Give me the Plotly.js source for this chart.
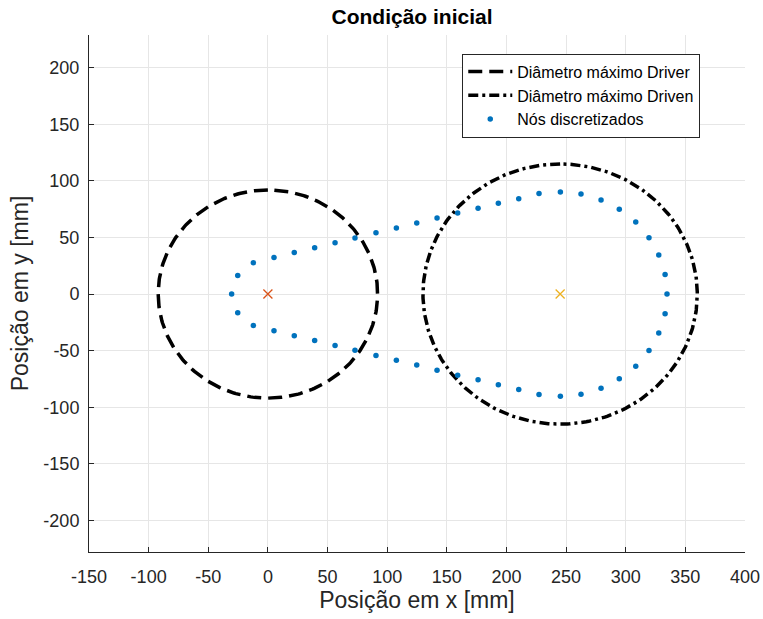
<!DOCTYPE html>
<html><head><meta charset="utf-8">
<script src="https://cdn.plot.ly/plotly-3.0.1.min.js"></script>
<style>body{margin:0;background:#fff}#chart{width:763px;height:619px}</style>
</head><body><div id="chart"></div>
<script>
// Discretized nodes (upper half, then lower half mirrored in reading order)
const nodesX = [-30.4,-25.3,-12.2,5.1,22.1,39.2,56.3,73.0,90.6,107.7,124.8,141.8,159.1,176.2,193.2,210.3,227.3,245.2,262.5,279.3,294.6,308.4,319.5,327.7,333.0,334.6,
                333.0,327.7,319.5,308.4,294.6,279.3,262.5,245.2,227.3,210.3,193.2,176.2,159.1,141.8,124.8,107.7,90.6,73.0,56.3,39.2,22.1,5.1,-12.2,-25.3];
const nodesY = [0,16.5,27.7,32.4,36.8,41.0,45.4,49.6,54.2,58.4,62.8,67.3,71.7,75.8,80.2,84.3,88.8,90.3,88.5,83.2,74.9,63.7,49.8,34.5,17.3,0,
                -17.3,-34.5,-49.8,-63.7,-74.9,-83.2,-88.5,-90.3,-88.8,-84.3,-80.2,-75.8,-71.7,-67.3,-62.8,-58.4,-54.2,-49.6,-45.4,-41.0,-36.8,-32.4,-27.7,-16.5];
// Gear centers and maximum radii
const centerX = [0, 245];
const centerY = [0, 0];
const radius = [92, 115];
const names = ["Diâmetro máximo Driver", "Diâmetro máximo Driven", "Nós discretizados"];
const xTicks = [-150,-100,-50,0,50,100,150,200,250,300,350,400];
const yTicks = [-200,-150,-100,-50,0,50,100,150,200];

function circle(cx, cy, r){
  const xs=[], ys=[];
  for(let i=0;i<=360;i++){const t=Math.PI/2 + i*Math.PI/180; xs.push(cx+r*Math.cos(t)); ys.push(cy+r*Math.sin(t));}
  return {xs, ys};
}
const c0 = circle(centerX[0], centerY[0], radius[0]);
const c1 = circle(centerX[1], centerY[1], radius[1]);

const font = "Liberation Sans, Arial, sans-serif";
const traces = [
  {x:c0.xs, y:c0.ys, mode:'lines', name:names[0], line:{color:'#000', width:3.5, dash:'14px,7px'}},
  {x:c1.xs, y:c1.ys, mode:'lines', name:names[1], line:{color:'#000', width:3.5, dash:'10px,4px,3px,4px'}},
  {x:nodesX, y:nodesY, mode:'markers', name:names[2], marker:{color:'#0072BD', size:5.5}},
  {x:[centerX[0]], y:[centerY[0]], mode:'markers', showlegend:false, marker:{color:'#D95319', size:9, symbol:'x-thin', line:{color:'#D95319', width:1.3}}},
  {x:[centerX[1]], y:[centerY[1]], mode:'markers', showlegend:false, marker:{color:'#EDB120', size:9, symbol:'x-thin', line:{color:'#EDB120', width:1.3}}}
];
const axisCommon = {showline:true, linecolor:'#262626', linewidth:1, ticks:'inside', ticklen:5, tickcolor:'#262626',
  gridcolor:'#e6e6e6', gridwidth:1, zeroline:false, tickfont:{family:font, size:18, color:'#262626'}, mirror:false};
const layout = {
  width:763, height:619, margin:{l:89, r:18, t:35, b:67},
  paper_bgcolor:'#fff', plot_bgcolor:'#fff',
  title:{text:'<b>Condição inicial</b>', font:{family:font, size:21, color:'#000'}, x:0.54, xanchor:'center', y:0.973, yanchor:'middle'},
  xaxis:Object.assign({}, axisCommon, {range:[-150,400], tickvals:xTicks, ticktext:xTicks.map(String), ticklabelstandoff:8,
    title:{text:'Posição em x [mm]', font:{family:font, size:23, color:'#262626'}, standoff:4}}),
  yaxis:Object.assign({}, axisCommon, {range:[-228,229], tickvals:yTicks, ticktext:yTicks.map(String), ticklabelstandoff:5,
    title:{text:'Posição em y [mm]', font:{family:font, size:23, color:'#262626'}, standoff:8}}),
  legend:{x:0.569, y:0.964, xanchor:'left', yanchor:'top', bgcolor:'#fff', bordercolor:'#262626', borderwidth:1,
    font:{family:font, size:16, color:'#000'}, tracegroupgap:0, itemwidth:44},
  showlegend:true
};
Plotly.newPlot('chart', traces, layout, {displayModeBar:false, staticPlot:true});
</script></body></html>
